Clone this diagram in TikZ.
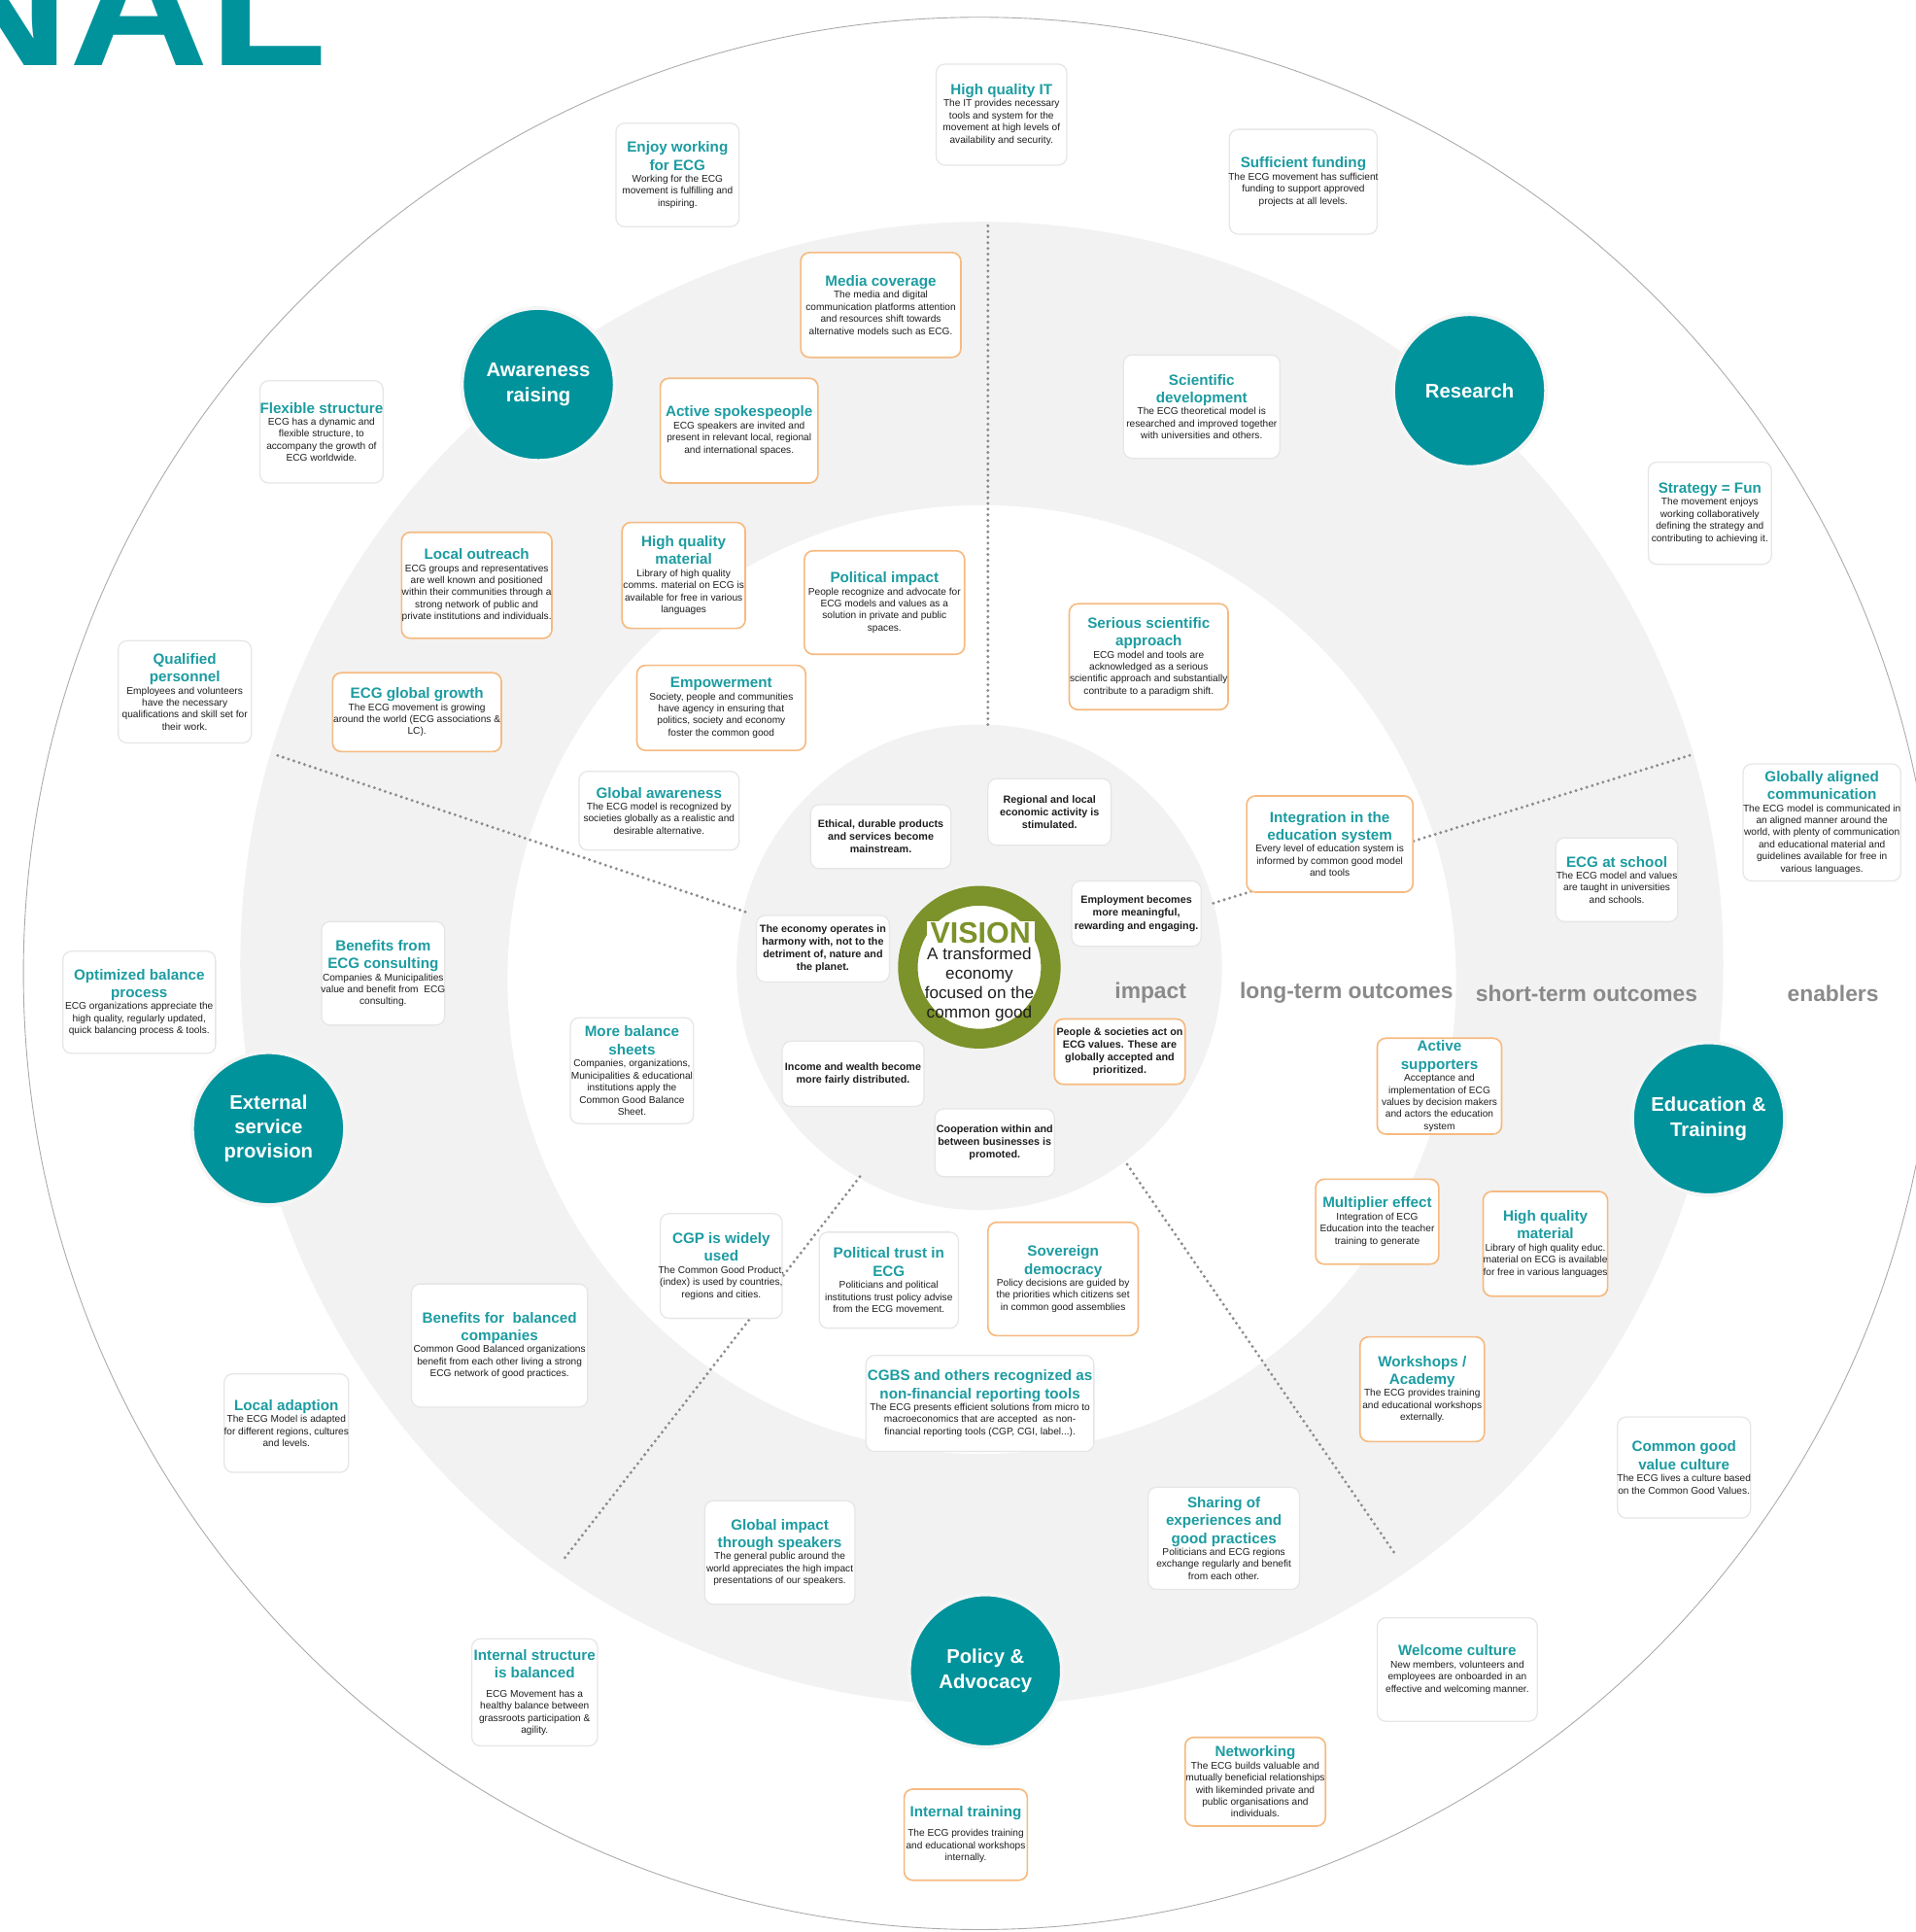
\documentclass[tikz,border=0pt]{standalone}
\usepackage{fontspec}
\setmainfont{Liberation Sans}
\setlength\parindent{0pt}

\definecolor{ecgteal}{RGB}{28,156,161}
\definecolor{ecgcircle}{RGB}{0,147,156}
\definecolor{ecgorange}{RGB}{246,186,128}
\definecolor{ecgline}{RGB}{230,230,230}
\definecolor{ecgring}{RGB}{242,242,242}
\definecolor{ecgrim}{RGB}{170,170,170}
\definecolor{ecgolive}{RGB}{124,146,42}
\definecolor{ecglabel}{RGB}{138,138,138}
\definecolor{ecgtext}{RGB}{30,30,30}

\newcommand\ttl[1]{{\fontsize{12}{14.5}\selectfont\bfseries\leavevmode\color{ecgteal}#1\par}}
\newcommand\dsc[1]{{\fontsize{8}{9.8}\selectfont\leavevmode\color{ecgtext}#1\par}}
\newcommand\imp[1]{{\fontsize{8.5}{10.4}\selectfont\bfseries\leavevmode\color{ecgtext}#1\par}}

\tikzset{
	ebox/.style={rounded corners=7pt, fill=white, align=flush center, inner xsep=-6pt, inner ysep=2pt},
	obox/.style={ebox, draw=ecgorange, line width=1.3pt},
	gbox/.style={ebox, draw=ecgline, line width=1pt},
	pillar/.style={circle, fill=ecgcircle, draw=black!4, line width=3pt, minimum size=124pt,
		text=white, align=center, font=\fontsize{16}{20}\selectfont\bfseries},
	stage/.style={text=ecglabel, font=\fontsize{18}{20}\selectfont\bfseries},
	divider/.style={draw=black!45, line width=2.6pt, line cap=round, dash pattern=on 0pt off 4.6pt},
}

\begin{document}
\begin{tikzpicture}[x=1pt, y=-1pt]
	%%%%% START %%%%%
	\useasboundingbox (0,0) rectangle (1555,1568);
	
	% rings
	\draw[ecgrim, line width=0.7pt] (795,790) circle (776);
	\fill[ecgring] (797,782) circle (602);
	\fill[white] (797,795) circle (385);
	\fill[ecgring] (795,785) circle (197);
	
	% sector dividers
	\draw[divider] (802,588) -- (802,180);
	\draw[divider] (605,740) -- (222,612);
	\draw[divider] (985,733) -- (1375,612);
	\draw[divider] (698,955) -- (458,1265);
	\draw[divider] (915,945) -- (1133,1262);
	
	\node[anchor=base east, inner sep=0pt, text=ecgcircle, font=\fontsize{140}{140}\selectfont\bfseries] (banner) at (266,53) {\scalebox{1.12}[1]{NAL}};
	
	% vision
	\node[circle, draw=ecgolive, line width=16pt, fill=white, minimum size=116pt] (vision) at (795,785) {};
	\node[fill=white, text=ecgolive, inner xsep=3pt, inner ysep=1pt, font=\fontsize{24}{24}\selectfont\bfseries] (visiontitle) at (796,757) {VISION};
	\node[align=center, text=ecgtext, font=\fontsize{13.5}{16}\selectfont] (visiontext) at (795,799) {A transformed\\economy\\focused on the\\common good};
	
	% stages
	\node[stage] (impactlbl) at (934,806) {impact};
	\node[stage] (longlbl) at (1093,806) {long-term outcomes};
	\node[stage] (shortlbl) at (1288,806) {short-term outcomes};
	\node[stage] (enablerlbl) at (1488,806) {enablers};
	
	% pillars
	\node[pillar] (awareness) at (437,312) {Awareness\\raising};
	\node[pillar] (research) at (1193,317) {Research};
	\node[pillar] (education) at (1387,908) {Education \&\\Training};
	\node[pillar] (external) at (218,916) {External\\service\\provision};
	\node[pillar] (policy) at (800,1356) {Policy \&\\Advocacy};
	
	% enablers
	\node[gbox, text width=118pt, minimum height=82pt] (hqit) at (813,93) {\ttl{High quality IT}\dsc{The IT provides necessary\\tools and system for the\\movement at high levels of\\availability and security.}};
	\node[gbox, text width=112pt, minimum height=84pt] (enjoy) at (550,142) {\ttl{Enjoy working\\for ECG}\dsc{Working for the ECG\\movement is fulfilling and\\inspiring.}};
	\node[gbox, text width=132pt, minimum height=85pt] (funding) at (1058,147.5) {\ttl{Sufficient funding}\dsc{The ECG movement has sufficient\\funding to support approved\\projects at all levels.}};
	\node[gbox, text width=112pt, minimum height=83pt] (flexible) at (261,350.5) {\ttl{Flexible structure}\dsc{ECG has a dynamic and\\flexible structure, to\\accompany the growth of\\ECG worldwide.}};
	\node[gbox, text width=112pt, minimum height=83pt] (strategy) at (1388,416.5) {\ttl{Strategy = Fun}\dsc{The movement enjoys\\working collaboratively\\defining the strategy and\\contributing to achieving it.}};
	\node[gbox, text width=120pt, minimum height=83pt] (qualified) at (150,561.5) {\ttl{Qualified\\personnel}\dsc{Employees and volunteers\\have the necessary\\qualifications and skill set for\\their work.}};
	\node[gbox, text width=140pt, minimum height=95pt] (globally) at (1479,667.5) {\ttl{Globally aligned\\communication}\dsc{The ECG model is communicated in\\an aligned manner around the\\world, with plenty of communication\\and educational material and\\guidelines available for free in\\various languages.}};
	\node[gbox, text width=136pt, minimum height=83pt] (optimized) at (113,813.5) {\ttl{Optimized balance\\process}\dsc{ECG organizations appreciate the\\high quality, regularly updated,\\quick balancing process \& tools.}};
	\node[gbox, text width=113pt, minimum height=80pt] (localadapt) at (232.5,1155) {\ttl{Local adaption}\dsc{The ECG Model is adapted\\for different regions, cultures\\and levels.}};
	\node[gbox, text width=120pt, minimum height=82pt] (cgvalue) at (1367,1191) {\ttl{Common good\\value culture}\dsc{The ECG lives a culture based\\on the Common Good Values.}};
	\node[gbox, text width=114pt, minimum height=87pt] (intstruct) at (434,1373.5) {\ttl{Internal structure\\is balanced}\vspace{6pt}\dsc{ECG Movement has a\\healthy balance between\\grassroots participation \&\\agility.}};
	\node[gbox, text width=142pt, minimum height=84pt] (welcome) at (1183,1355) {\ttl{Welcome culture}\dsc{New members, volunteers and\\employees are onboarded in an\\effective and welcoming manner.}};
	\node[obox, text width=126pt, minimum height=72pt] (networking) at (1019,1446) {\ttl{Networking}\dsc{The ECG builds valuable and\\mutually beneficial relationships\\with likeminded private and\\public organisations and\\individuals.}};
	\node[obox, text width=112pt, minimum height=74pt] (inttraining) at (784,1489) {\ttl{Internal training}\vspace{6pt}\dsc{The ECG provides training\\and educational workshops\\internally.}};
	
	% short-term outcomes
	\node[obox, text width=142pt, minimum height=85pt] (media) at (715,247.5) {\ttl{Media coverage}\dsc{The media and digital\\communication platforms attention\\and resources shift towards\\alternative models such as ECG.}};
	\node[gbox, text width=139pt, minimum height=84pt] (scidev) at (975.5,330) {\ttl{Scientific\\development}\dsc{The ECG theoretical model is\\researched and improved together\\with universities and others.}};
	\node[obox, text width=140pt, minimum height=85pt] (spokes) at (600,349.5) {\ttl{Active spokespeople}\dsc{ECG speakers are invited and\\present in relevant local, regional\\and international spaces.}};
	\node[obox, text width=134pt, minimum height=86pt] (outreach) at (387,475) {\ttl{Local outreach}\dsc{ECG groups and representatives\\are well known and positioned\\within their communities through a\\strong network of public and\\private institutions and individuals.}};
	\node[obox, text width=149pt, minimum height=64pt] (growth) at (338.5,578) {\ttl{ECG global growth}\dsc{The ECG movement is growing\\around the world (ECG associations \&\\LC).}};
	\node[gbox, text width=111pt, minimum height=68pt] (school) at (1312.5,714) {\ttl{ECG at school}\dsc{The ECG model and values\\are taught in universities\\and schools.}};
	\node[gbox, text width=112pt, minimum height=84pt] (consulting) at (311,790) {\ttl{Benefits from\\ECG consulting}\dsc{Companies \& Municipalities\\value and benefit from\ \ ECG\\consulting.}};
	\node[obox, text width=113pt, minimum height=73pt] (supporters) at (1168.5,881.5) {\ttl{Active\\supporters}\dsc{Acceptance and\\implementation of ECG\\values by decision makers\\and actors the education\\system}};
	\node[obox, text width=112pt, minimum height=69pt] (multiplier) at (1118,991.5) {\ttl{Multiplier effect}\dsc{Integration of ECG\\Education into the teacher\\training to generate}};
	\node[obox, text width=113pt, minimum height=85pt] (hqmateduc) at (1254.5,1009.5) {\ttl{High quality\\material}\dsc{Library of high quality educ.\\material on ECG is available\\for free in various languages}};
	\node[obox, text width=113pt, minimum height=85pt] (workshops) at (1154.5,1127.5) {\ttl{Workshops /\\Academy}\dsc{The ECG provides training\\and educational workshops\\externally.}};
	\node[gbox, text width=155pt, minimum height=100pt] (balcomp) at (405.5,1092) {\ttl{Benefits for\ \ balanced\\companies}\dsc{Common Good Balanced organizations\\benefit from each other living a strong\\ECG network of good practices.}};
	\node[gbox, text width=134pt, minimum height=84pt] (speakers) at (633,1260) {\ttl{Global impact\\through speakers}\dsc{The general public around the\\world appreciates the high impact\\presentations of our speakers.}};
	\node[gbox, text width=135pt, minimum height=83pt] (sharing) at (993.5,1248.5) {\ttl{Sharing of\\experiences and\\good practices}\dsc{Politicians and ECG regions\\exchange regularly and benefit\\from each other.}};
	
	% long-term outcomes
	\node[obox, text width=112pt, minimum height=86pt] (hqmatcomms) at (555,467) {\ttl{High quality\\material}\dsc{Library of high quality\\comms. material on ECG is\\available for free in various\\languages}};
	\node[obox, text width=142pt, minimum height=84pt] (polimpact) at (718,489) {\ttl{Political impact}\dsc{People recognize and advocate for\\ECG models and values as a\\solution in private and public\\spaces.}};
	\node[obox, text width=141pt, minimum height=86pt] (serious) at (932.5,533) {\ttl{Serious scientific\\approach}\dsc{ECG model and tools are\\acknowledged as a serious\\scientific approach and substantially\\contribute to a paradigm shift.}};
	\node[obox, text width=149pt, minimum height=69pt] (empower) at (585.5,574.5) {\ttl{Empowerment}\dsc{Society, people and communities\\have agency in ensuring that\\politics, society and economy\\foster the common good}};
	\node[gbox, text width=142pt, minimum height=64pt] (globaware) at (535,658) {\ttl{Global awareness}\dsc{The ECG model is recognized by\\societies globally as a realistic and\\desirable alternative.}};
	\node[obox, text width=147pt, minimum height=78pt] (integration) at (1079.5,685) {\ttl{Integration in the\\education system}\dsc{Every level of education system is\\informed by common good model\\and tools}};
	\node[gbox, text width=112pt, minimum height=86pt] (morebal) at (513,869) {\ttl{More balance\\sheets}\dsc{Companies, organizations,\\Municipalities \& educational\\institutions apply the\\Common Good Balance\\Sheet.}};
	\node[gbox, text width=111pt, minimum height=85pt] (cgp) at (585.5,1027.5) {\ttl{CGP is widely\\used}\dsc{The Common Good Product,\\(index) is used by countries,\\regions and cities.}};
	\node[gbox, text width=125pt, minimum height=78pt] (poltrust) at (721.5,1039) {\ttl{Political trust in\\ECG}\dsc{Politicians and political\\institutions trust policy advise\\from the ECG movement.}};
	\node[obox, text width=134pt, minimum height=92pt] (sovereign) at (863,1038) {\ttl{Sovereign\\democracy}\dsc{Policy decisions are guided by\\the priorities which citizens set\\in common good assemblies}};
	\node[gbox, text width=197pt, minimum height=78pt] (cgbs) at (795.5,1139) {\ttl{CGBS and others recognized as\\non-financial reporting tools}\dsc{The ECG presents efficient solutions from micro to\\macroeconomics that are accepted\ \ as non-\\financial reporting tools (CGP, CGI, label...).}};
	
	% impact
	\node[gbox, text width=126pt, minimum height=52pt] (ethical) at (715,679) {\imp{Ethical, durable products\\and services become\\mainstream.}};
	\node[gbox, text width=112pt, minimum height=54pt] (regional) at (852,659) {\imp{Regional and local\\economic activity is\\stimulated.}};
	\node[gbox, text width=120pt, minimum height=54pt] (harmony) at (668,770) {\imp{The economy operates in\\harmony with, not to the\\detriment of, nature and\\the planet.}};
	\node[gbox, text width=117pt, minimum height=53pt] (employment) at (922.5,741.5) {\imp{Employment becomes\\more meaningful,\\rewarding and engaging.}};
	\node[gbox, text width=127pt, minimum height=53pt] (income) at (692.5,871.5) {\imp{Income and wealth become\\more fairly distributed.}};
	\node[obox, text width=118pt, minimum height=53pt] (people) at (909,853.5) {\imp{People \& societies act on\\ECG values. These are\\globally accepted and\\prioritized.}};
	\node[gbox, text width=109pt, minimum height=55pt] (cooperation) at (807.5,927.5) {\imp{Cooperation within and\\between businesses is\\promoted.}};
	
	%%%%% END %%%%%
\end{tikzpicture}
\end{document}
